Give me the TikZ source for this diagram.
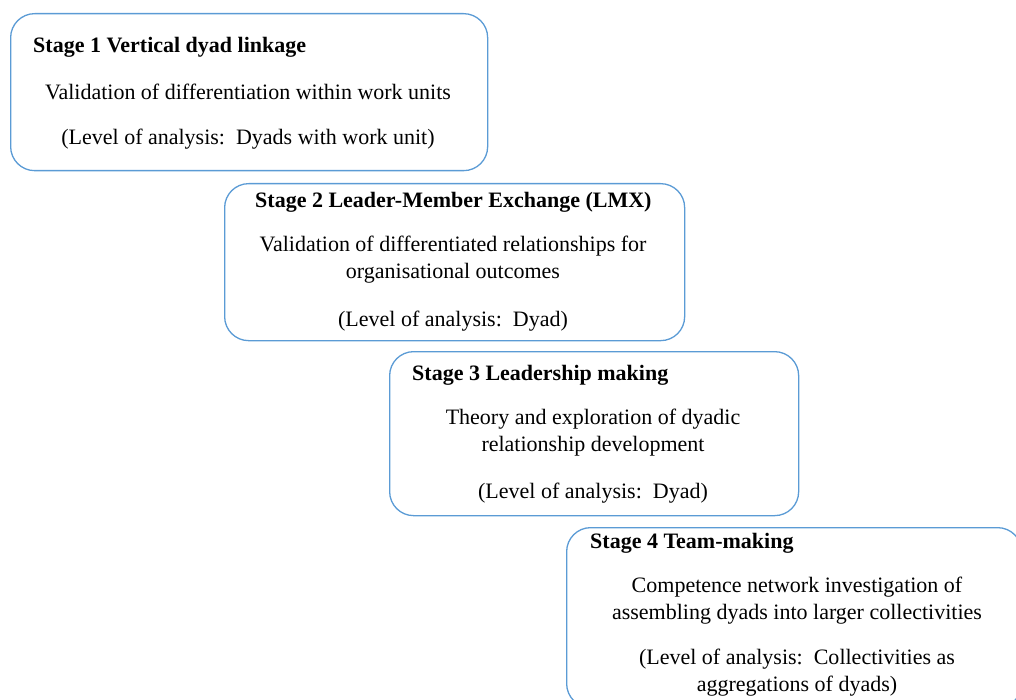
\documentclass[tikz,border=0pt]{standalone}
\usepackage{fontspec}
\setmainfont{Liberation Serif}
\definecolor{stageblue}{RGB}{91,155,213}
\begin{document}
\begin{tikzpicture}[x=1pt,y=-1pt,
  stagebox/.style={draw=stageblue, line width=1.3pt, rounded corners=24pt,
    anchor=north west, inner sep=0pt},
  stagetitle/.style={anchor=base west, inner sep=0pt,
    font=\fontsize{22}{27}\selectfont\bfseries},
  stagetext/.style={anchor=base, inner sep=0pt,
    font=\fontsize{22}{27}\selectfont}]
\useasboundingbox (0,0) rectangle (1016,700);
\clip (0,0) rectangle (1016,700);

% Stage 1
\node[stagebox, minimum width=477pt, minimum height=157pt] (box1) at (10,13) {};
\node[stagetitle] (t1) at (33,53) {Stage 1 Vertical dyad linkage};
\node[stagetext] (d1) at (248,100) {Validation of differentiation within work units};
\node[stagetext] (l1) at (248,145) {(Level of analysis:\ \ Dyads with work unit)};

% Stage 2
\node[stagebox, minimum width=460pt, minimum height=157pt] (box2) at (224,183) {};
\node[stagetitle] (t2) at (255,208) {Stage 2 Leader-Member Exchange (LMX)};
\node[stagetext] (d2a) at (453,252) {Validation of differentiated relationships for};
\node[stagetext] (d2b) at (453,279) {organisational outcomes};
\node[stagetext] (l2) at (453,326) {(Level of analysis:\ \ Dyad)};

% Stage 3
\node[stagebox, minimum width=409pt, minimum height=164pt] (box3) at (389,351) {};
\node[stagetitle] (t3) at (412,380) {Stage 3 Leadership making};
\node[stagetext] (d3a) at (593,424) {Theory and exploration of dyadic};
\node[stagetext] (d3b) at (593,451) {relationship development};
\node[stagetext] (l3) at (593,498) {(Level of analysis:\ \ Dyad)};

% Stage 4 (runs past the lower right edge)
\node[stagebox, minimum width=455pt, minimum height=180pt] (box4) at (566,527) {};
\node[stagetitle] (t4) at (590,548) {Stage 4 Team-making};
\node[stagetext] (d4a) at (797,592) {Competence network investigation of};
\node[stagetext] (d4b) at (797,619) {assembling dyads into larger collectivities};
\node[stagetext] (l4a) at (797,664) {(Level of analysis:\ \ Collectivities as};
\node[stagetext] (l4b) at (797,691) {aggregations of dyads)};
\end{tikzpicture}
\end{document}
